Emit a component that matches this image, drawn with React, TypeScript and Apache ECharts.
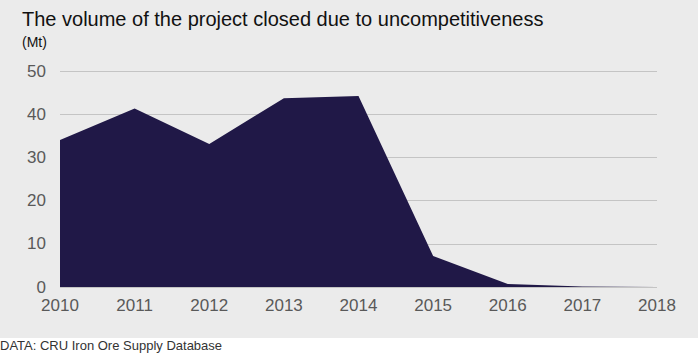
import React, { useEffect, useRef } from "react";
import * as echarts from "echarts";

const years = ["2010", "2011", "2012", "2013", "2014", "2015", "2016", "2017", "2018"];
const volumes = [34.0, 41.3, 33.1, 43.7, 44.2, 7.2, 0.7, 0.1, 0];
const yTicks = { min: 0, max: 50, interval: 10 };

const FONT = "Liberation Sans, Arial, sans-serif";

export default function App() {
  const ref = useRef<HTMLDivElement>(null);
  useEffect(() => {
    if (!ref.current) return;
    const chart = echarts.init(ref.current, null, { renderer: "svg" });
    chart.setOption({
      animation: false,
      backgroundColor: "#ebebeb",
      textStyle: { fontFamily: FONT },
      graphic: [
        { type: "rect", left: 0, top: 338, shape: { width: 698, height: 16 }, style: { fill: "#ffffff" }, silent: true },
        { type: "text", left: 22, top: 9, style: { text: "The volume of the project closed due to uncompetitiveness", fill: "#111111", fontSize: 20, fontFamily: FONT } },
        { type: "text", left: 22, top: 35, style: { text: "(Mt)", fill: "#111111", fontSize: 14, fontFamily: FONT } },
        { type: "text", left: 0, top: 339, style: { text: "DATA: CRU Iron Ore Supply Database", fill: "#333333", fontSize: 13, fontFamily: FONT } },
      ],
      grid: { left: 60, right: 41, top: 71, bottom: 67, containLabel: false },
      xAxis: {
        type: "category",
        data: years,
        boundaryGap: false,
        axisLine: { show: false },
        axisTick: { show: false },
        axisLabel: { color: "#595959", fontSize: 17, margin: 10 },
        splitLine: { show: false },
      },
      yAxis: {
        type: "value",
        min: yTicks.min,
        max: yTicks.max,
        interval: yTicks.interval,
        axisLine: { show: false },
        axisTick: { show: false },
        axisLabel: { color: "#595959", fontSize: 17, margin: 14 },
        splitLine: { lineStyle: { color: "#c4c4c4", width: 1 } },
      },
      series: [
        {
          type: "line",
          data: volumes,
          symbol: "none",
          lineStyle: { width: 0, color: "#201847" },
          areaStyle: { color: "#201847", opacity: 1 },
        },
      ],
    });
    return () => chart.dispose();
  }, []);
  return <div ref={ref} style={{ position: "fixed", left: 0, top: 0, width: 698, height: 354 }} />;
}
